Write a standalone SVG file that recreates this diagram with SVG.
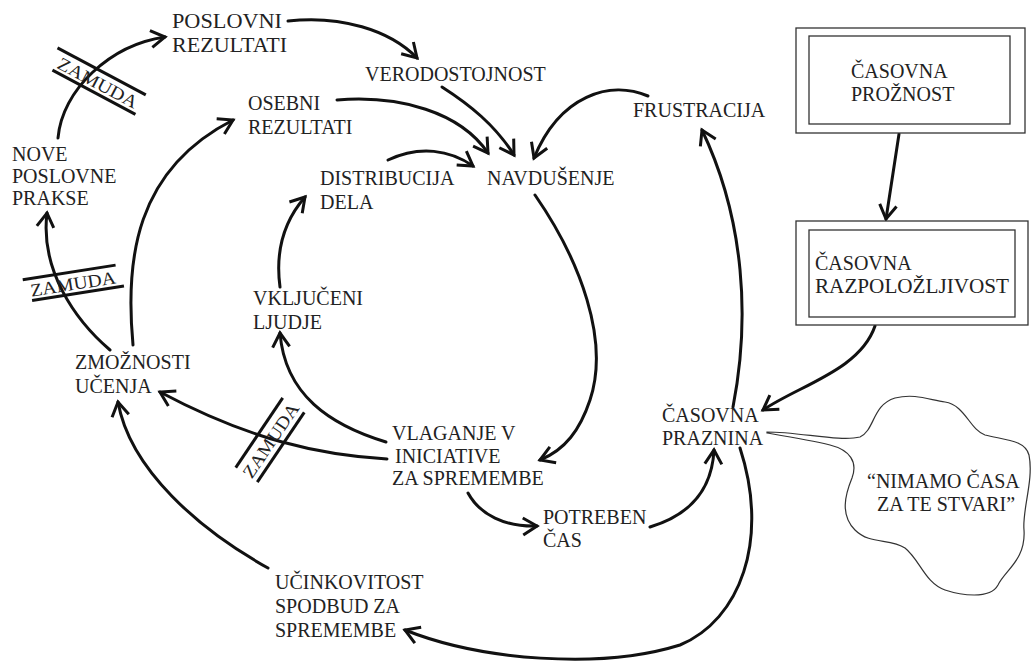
<svg xmlns="http://www.w3.org/2000/svg" width="1032" height="664" viewBox="0 0 1032 664">
<style>
.t{font-family:'Liberation Serif','DejaVu Serif',serif;font-size:20px;fill:#222}
.z{font-family:'Liberation Serif','DejaVu Serif',serif;font-size:18px;fill:#222}
.c{fill:none;stroke:#111;stroke-width:3;stroke-linecap:round;marker-end:url(#ah)}
.d{fill:none;stroke:#111;stroke-width:3;stroke-linecap:butt}
.box{fill:#fff;stroke:#333;stroke-width:1.3}
.cloud{fill:#fff;stroke:#333;stroke-width:1.2}
</style>
<defs>
<marker id="ah" markerUnits="userSpaceOnUse" markerWidth="24" markerHeight="24" viewBox="-16 -12 24 24" refX="0" refY="0" orient="auto" overflow="visible">
<path d="M-14,-8.5 L0,0 L-14,8.5" fill="none" stroke="#111" stroke-width="3" stroke-linejoin="miter"/>
</marker>
</defs>
<rect width="1032" height="664" fill="#fff"/>

<g id="connectors">
<path class="c" d="M58,138 C 62,90 110,45 165,37"/>
<path class="c" d="M288,21 C 340,15 390,30 417,58"/>
<path class="c" d="M442,87 C 470,105 495,125 514,155"/>
<path class="c" d="M337,100 C 400,95 460,112 488,153"/>
<path class="c" d="M648,96 C 610,80 560,95 534,158"/>
<path class="c" d="M388,160 C 420,145 450,150 473,166"/>
<path class="c" d="M280,287 C 275,250 285,220 305,197"/>
<path class="c" d="M386,442 C 330,425 285,395 280,333"/>
<path class="c" d="M535,195 C 580,260 610,340 590,400 C 580,430 565,450 540,460"/>
<path class="c" d="M387,459 C 320,455 250,440 160,392"/>
<path class="c" d="M133,345 C 125,260 135,170 233,120"/>
<path class="c" d="M110,350 C 75,320 40,270 47,213"/>
<path class="c" d="M268,568 C 200,530 130,470 118,402"/>
<path class="c" d="M468,493 C 480,515 505,527 537,526"/>
<path class="c" d="M650,527 C 690,515 712,490 714,450"/>
<path class="c" d="M733,407 C 750,320 745,220 702,130"/>
<path class="c" d="M740,448 C 770,540 740,620 680,645 C 600,670 480,660 405,630"/>
<path class="c" d="M875,326 C 860,370 800,385 763,410"/>
<path class="c" d="M899,134 L886,219"/>
</g>

<g id="delay1" transform="translate(96,82) rotate(28)">
<line class="d" x1="-50" y1="-12" x2="50" y2="-12"/>
<line class="d" x1="-44" y1="10" x2="50" y2="10"/>
<text class="z" x="2" y="6" text-anchor="middle" textLength="88" lengthAdjust="spacingAndGlyphs">ZAMUDA</text>
</g>
<g id="delay2" transform="translate(73,284) rotate(-9)">
<line class="d" x1="-49" y1="-12" x2="45" y2="-12"/>
<line class="d" x1="-43" y1="10" x2="50" y2="10"/>
<text class="z" x="0" y="6" text-anchor="middle" textLength="86" lengthAdjust="spacingAndGlyphs">ZAMUDA</text>
</g>
<g id="delay3" transform="translate(270,440) rotate(-56)">
<line class="d" x1="-42" y1="-13" x2="42" y2="-13"/>
<line class="d" x1="-42" y1="13" x2="42" y2="13"/>
<text class="z" x="0" y="7" text-anchor="middle" textLength="86" lengthAdjust="spacingAndGlyphs">ZAMUDA</text>
</g>

<g id="n-poslovni"><text class="t" x="172" y="28" textLength="110" lengthAdjust="spacingAndGlyphs">POSLOVNI</text><text class="t" x="172" y="52" textLength="115" lengthAdjust="spacingAndGlyphs">REZULTATI</text></g>
<g id="n-verodostojnost"><text class="t" x="365" y="81">VERODOSTOJNOST</text></g>
<g id="n-osebni"><text class="t" x="248" y="110">OSEBNI</text><text class="t" x="248" y="134">REZULTATI</text></g>
<g id="n-frustracija"><text class="t" x="633" y="117">FRUSTRACIJA</text></g>
<g id="n-navdusenje"><text class="t" x="487" y="185">NAVDUŠENJE</text></g>
<g id="n-distribucija"><text class="t" x="320" y="185">DISTRIBUCIJA</text><text class="t" x="320" y="209">DELA</text></g>
<g id="n-nove"><text class="t" x="12" y="161">NOVE</text><text class="t" x="12" y="183">POSLOVNE</text><text class="t" x="12" y="205">PRAKSE</text></g>
<g id="n-vkljuceni"><text class="t" x="253" y="305">VKLJUČENI</text><text class="t" x="253" y="329">LJUDJE</text></g>
<g id="n-zmoznosti"><text class="t" x="75" y="369">ZMOŽNOSTI</text><text class="t" x="75" y="393">UČENJA</text></g>
<g id="n-vlaganje"><text class="t" x="392" y="440">VLAGANJE V</text><text class="t" x="395" y="463">INICIATIVE</text><text class="t" x="392" y="485">ZA SPREMEMBE</text></g>
<g id="n-potreben"><text class="t" x="543" y="524">POTREBEN</text><text class="t" x="543" y="547">ČAS</text></g>
<g id="n-ucinkovitost"><text class="t" x="275" y="589">UČINKOVITOST</text><text class="t" x="275" y="613">SPODBUD ZA</text><text class="t" x="275" y="637">SPREMEMBE</text></g>
<g id="n-casovna-praznina"><text class="t" x="662" y="422">ČASOVNA</text><text class="t" x="662" y="445">PRAZNINA</text></g>

<g id="n-casovna-proznost">
<rect class="box" x="796" y="28" width="229" height="105"/>
<rect class="box" x="809" y="36" width="201" height="88"/>
<text class="t" x="851" y="78">ČASOVNA</text><text class="t" x="851" y="101">PROŽNOST</text>
</g>
<g id="n-casovna-razpolozljivost">
<rect class="box" x="796" y="221" width="232" height="104"/>
<rect class="box" x="809" y="230" width="206" height="87"/>
<text class="t" x="815" y="270">ČASOVNA</text><text class="t" x="815" y="293" textLength="194" lengthAdjust="spacingAndGlyphs">RAZPOLOŽLJIVOST</text>
</g>

<g id="n-cloud">
<path class="cloud" d="M767,432 C 800,432 840,442 860,437 C 875,430 872,405 895,398 C 915,393 930,400 945,402 C 965,405 970,430 985,435 C 1005,440 1025,440 1029,455 C 1034,480 1022,510 1024,530 C 1026,560 1005,570 998,585 C 990,600 960,595 945,590 C 925,583 920,560 905,548 C 890,538 870,545 855,530 C 840,515 845,495 852,478 C 858,462 850,450 830,445 C 810,440 785,436 767,433 Z"/>
<text class="t" x="867" y="488">“NIMAMO ČASA</text>
<text class="t" x="877" y="511">ZA TE STVARI”</text>
</g>
</svg>
